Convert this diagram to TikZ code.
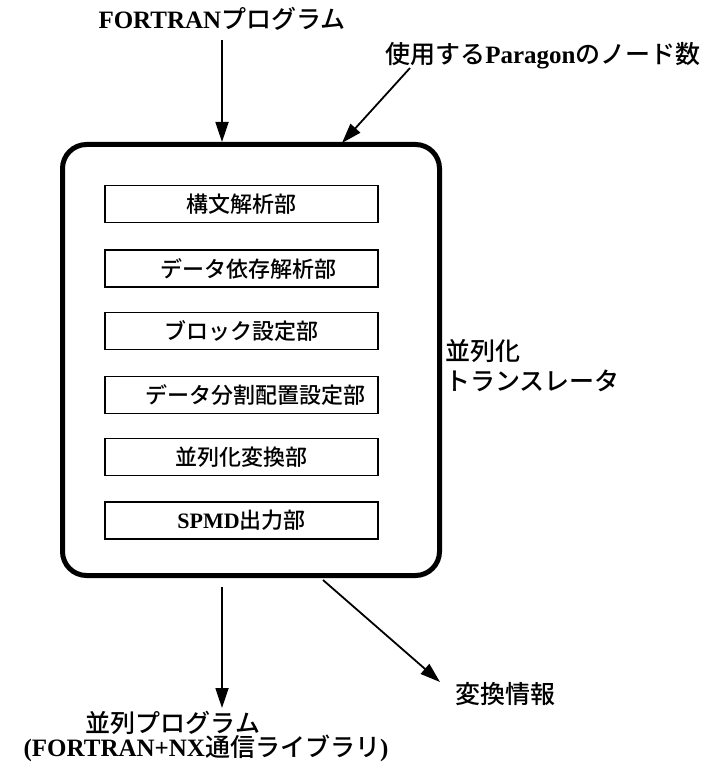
\documentclass[tikz,border=0pt]{standalone}
\usepackage{fontspec}
\setmainfont{Liberation Serif}
\newfontfamily\jpfont{Noto Sans CJK JP}[BoldFont={Noto Sans CJK JP Medium}]
\newcommand{\J}[1]{{\jpfont #1}}
\usetikzlibrary{arrows.meta}
\tikzset{
  lbl/.style={inner sep=0pt, font=\fontsize{25}{30}\selectfont\bfseries},
  part/.style={draw, line width=1.8pt, minimum width=273pt, minimum height=37pt, inner sep=0pt,
    font=\fontsize{22}{26}\selectfont\bfseries},
  outerbox/.style={draw, line width=5pt, rounded corners=24pt, minimum width=377pt, minimum height=431pt, inner sep=0pt},
  arr/.style={line width=1.8pt, -{Triangle[length=20pt,width=13pt]}}
}
\begin{document}
\begin{tikzpicture}[x=1pt,y=-1pt]
\useasboundingbox (0,0) rectangle (709,767);
\node[outerbox] (trans) at (251,360) {};
\node[part] (b1) at (241.5,204) {\J{構文解析部}};
\node[part] (b2) at (241.5,268.5) {\hspace{14pt}\J{データ依存解析部}};
\node[part] (b3) at (241.5,331) {\J{ブロック設定部}};
\node[part] (b4) at (241.5,395) {\hspace{28pt}\J{データ分割配置設定部}};
\node[part] (b5) at (241.5,457) {\J{並列化変換部}};
\node[part] (b6) at (241.5,520.5) {SPMD\J{出力部}};
\node[lbl] (fin) at (222,19) {FORTRAN\J{プログラム}};
\node[lbl] (num) at (543,56) {\J{使用する}Paragon\J{のノード数}};
\node[lbl, anchor=west, align=left] (tl) at (445,366) {\J{並列化}\\\J{トランスレータ}};
\node[lbl] (out1) at (173,723) {\J{並列プログラム}};
\node[lbl] (out2) at (206,748) {(FORTRAN+NX\J{通信ライブラリ})};
\node[lbl] (info) at (505,694) {\J{変換情報}};
\coordinate (numfoot) at (410,68);
\coordinate (numtip) at (342,143);
\coordinate (outstart) at (222,587);
\coordinate (outtip) at (222,708);
\coordinate (infostart) at (323,580);
\coordinate (infotip) at (440,682);
\draw[arr] (fin.south |- 0,40) -- (fin.south |- trans.north);
\draw[arr] (numfoot) -- (numtip);
\draw[arr] (outstart) -- (outtip);
\draw[arr] (infostart) -- (infotip);
\end{tikzpicture}
\end{document}
